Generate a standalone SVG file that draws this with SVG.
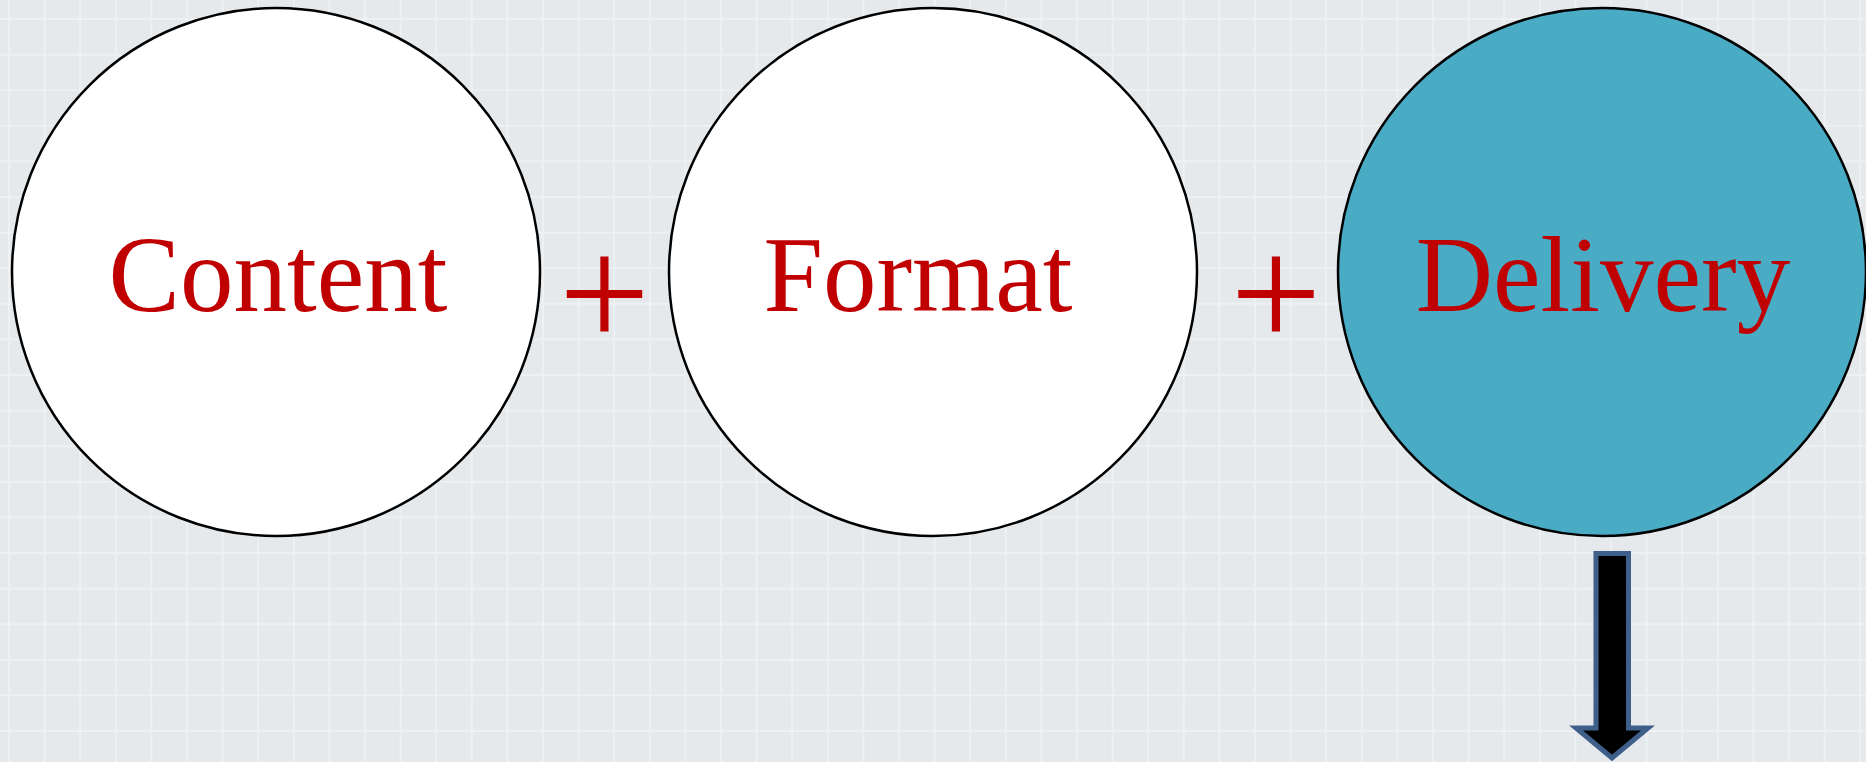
<svg xmlns="http://www.w3.org/2000/svg" width="1866" height="762" viewBox="0 0 1866 762">
<defs>
<pattern id="grid" x="8" y="18" width="35.6" height="35.6" patternUnits="userSpaceOnUse">
<rect width="35.6" height="35.6" fill="#e5e9ec"/>
<rect x="0" y="0" width="2" height="35.6" fill="#eef1f3"/>
<rect x="0" y="0" width="35.6" height="2" fill="#eef1f3"/>
</pattern>
<style>
.c{stroke:#000;stroke-width:2.5}
.t{font-family:"Liberation Serif","Times New Roman",serif;fill:#c00000;text-anchor:middle}
.lbl{font-size:107px}
.plus{font-size:162px}
</style>
</defs>
<rect width="1866" height="762" fill="url(#grid)"/>
<g id="content">
<circle class="c" cx="276" cy="272" r="264" fill="#ffffff"/>
<text class="t lbl" x="278" y="311">Content</text>
</g>
<g id="plus1">
<text class="t plus" x="604.5" y="348">+</text>
</g>
<g id="format">
<circle class="c" cx="933" cy="272" r="264" fill="#ffffff"/>
<text class="t lbl" x="918" y="311">Format</text>
</g>
<g id="plus2">
<text class="t plus" x="1276" y="348">+</text>
</g>
<g id="delivery">
<circle class="c" cx="1602" cy="272" r="264" fill="#4aabc5"/>
<text class="t lbl" x="1603" y="311">Delivery</text>
</g>
<g id="connectors">
<path d="M1596 553.5 H1628.5 V728 H1648 L1612 758 L1576 728 H1596 Z" fill="#000" stroke="#3d5f8a" stroke-width="5" stroke-linejoin="miter"/>
</g>
</svg>
